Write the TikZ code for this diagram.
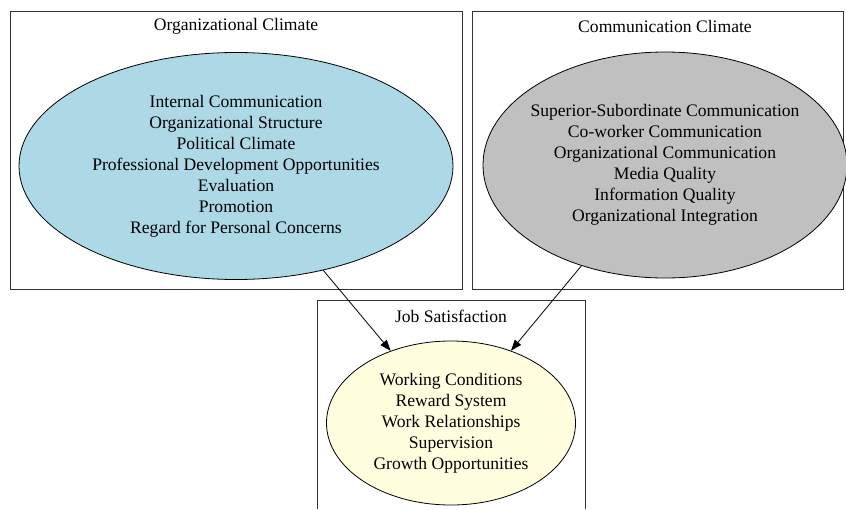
\documentclass[tikz,border=0pt]{standalone}
\usepackage{fontspec}
\setmainfont{Liberation Serif}
\usetikzlibrary{shapes.geometric,arrows.meta}
\definecolor{climateblue}{RGB}{173,216,230}
\definecolor{climategray}{RGB}{192,192,192}
\definecolor{satisfyellow}{RGB}{255,255,224}
\begin{document}
\begin{tikzpicture}[x=1pt,y=-1pt,
  box/.style={draw=black!80,line width=0.9pt},
  title/.style={font=\fontsize{17.6}{21}\selectfont},
  factor/.style={ellipse,draw,line width=0.8pt,inner sep=0pt,align=center,font=\fontsize{17.6}{21}\selectfont},
  link/.style={-{Triangle[length=11pt,width=8pt]},line width=0.8pt}]
\useasboundingbox (0,0) rectangle (846,509);
%% three cluster boxes
\draw[box] (10,11) rectangle (462,289);
\draw[box] (472,11) rectangle (843,289);
\draw[box] (317,509) -- (317,300) -- (585,300) -- (585,509);
%% cluster titles
\node[title] (octitle) at (236,26) {Organizational Climate};
\node[title] (cctitle) at (665,26) {Communication Climate};
\node[title] (jstitle) at (451,316) {Job Satisfaction};
%% the three ellipses
\node[factor,fill=climateblue,minimum width=434pt,minimum height=227pt] (oc) at (236,166)
  {Internal Communication\\Organizational Structure\\Political Climate\\Professional Development Opportunities\\Evaluation\\Promotion\\Regard for Personal Concerns};
\node[factor,fill=climategray,inner xsep=-10pt,minimum width=364pt,minimum height=226pt] (cc) at (665,165)
  {Superior-Subordinate Communication\\Co-worker Communication\\Organizational Communication\\Media Quality\\Information Quality\\Organizational Integration};
\node[factor,fill=satisfyellow,minimum width=249pt,minimum height=164pt] (js) at (451,423)
  {Working Conditions\\Reward System\\Work Relationships\\Supervision\\Growth Opportunities};
%% arrows into job satisfaction
\draw[link] (oc) -- (js);
\draw[link] (cc) -- (js);
\end{tikzpicture}
\end{document}
